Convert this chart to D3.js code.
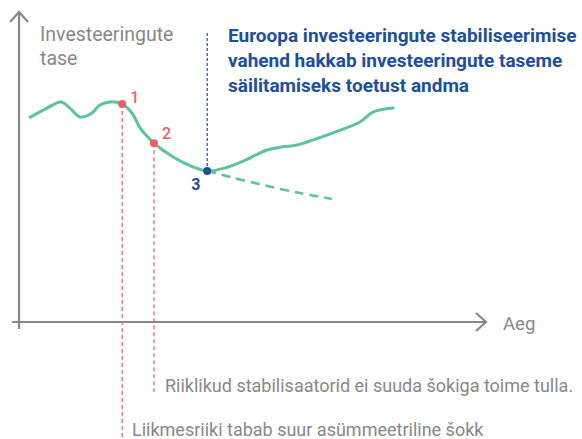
<!DOCTYPE html>
<html>
<head>
<meta charset="utf-8">
<script src="https://cdn.jsdelivr.net/npm/d3@7"></script>
<style>
  body { margin: 0; background: #fff; }
  svg { display: block; }
</style>
</head>
<body>
<div id="chart"></div>
<script>
// investment level path, time in % of axis, level in % of axis
var timeVals  = [2.4, 5.6, 9.0, 10.9, 13.1, 15.6, 17.3, 19.5, 22.1, 24.2, 25.9, 27.2, 28.9, 33.0, 37.3, 40.3, 44.1, 48.0, 53.1, 56.5, 59.5, 67.2, 73.0, 75.8, 80.1];
var levelVals = [66.1, 68.7, 71.0, 69.0, 66.1, 67.4, 70.0, 71.0, 70.3, 67.4, 62.6, 60.3, 57.7, 53.2, 50.0, 48.7, 49.7, 51.9, 55.5, 56.5, 57.1, 61.0, 64.5, 67.7, 69.0];
// path without support
var noSupTime  = [40.3, 45.2, 52.2, 60.2, 67.0];
var noSupLevel = [48.7, 46.8, 44.2, 41.6, 39.7];
// numbered events
var eventLabels = ["1", "2", "3"];
var eventTime   = [22.1, 28.9, 40.3];
var eventLevel  = [70.3, 57.7, 48.7];

var yTitle = ["Investeeringute", "tase"];
var xTitle = "Aeg";
var blueNote = ["Euroopa investeeringute stabiliseerimise", "vahend hakkab investeeringute taseme", "säilitamiseks toetust andma"];
var note2 = "Riiklikud stabilisaatorid ei suuda šokiga toime tulla.";
var note1 = "Liikmesriiki tabab suur asümmeetriline šokk";

var W = 582, H = 439;
var green = "#5cc39a", red = "#ef5d64", blue = "#1c4f9e", grey = "#87888a";
var font = "Roboto, 'Open Sans', sans-serif";

var svg = d3.select("#chart").append("svg")
  .attr("width", W)
  .attr("height", H);

var x = d3.scaleLinear().domain([0, 100]).range([19, 486]);
var y = d3.scaleLinear().domain([0, 100]).range([322, 12]);

// axes
svg.append("line")
  .attr("x1", x(0)).attr("x2", x(0))
  .attr("y1", y(100) + 1).attr("y2", y(0) + 7)
  .attr("stroke", grey).attr("stroke-width", 2.2);
svg.append("path")
  .attr("d", "M" + (x(0) - 9) + "," + (y(100) + 10) + "L" + x(0) + "," + y(100) + "L" + (x(0) + 9) + "," + (y(100) + 10))
  .attr("fill", "none").attr("stroke", grey).attr("stroke-width", 2.2);
svg.append("line")
  .attr("x1", x(0) - 7).attr("x2", x(100) - 1)
  .attr("y1", y(0)).attr("y2", y(0))
  .attr("stroke", grey).attr("stroke-width", 2.2);
svg.append("path")
  .attr("d", "M" + (x(100) - 10) + "," + (y(0) - 9) + "L" + x(100) + "," + y(0) + "L" + (x(100) - 10) + "," + (y(0) + 9))
  .attr("fill", "none").attr("stroke", grey).attr("stroke-width", 2.2);

svg.append("text")
  .attr("x", 503).attr("y", 330)
  .attr("font-family", font).attr("font-size", 18.5)
  .attr("fill", grey).text(xTitle);

svg.selectAll(".ytitle").data(yTitle).enter().append("text")
  .attr("class", "ytitle")
  .attr("x", 40).attr("y", (d, i) => 41 + i * 24)
  .attr("font-family", font).attr("font-size", 19.5)
  .attr("fill", grey).text(d => d);

// guide lines
svg.append("line")
  .attr("x1", x(eventTime[0])).attr("x2", x(eventTime[0]))
  .attr("y1", y(eventLevel[0])).attr("y2", H)
  .attr("stroke", red).attr("stroke-width", 1.2).attr("stroke-dasharray", "4,3");
svg.append("line")
  .attr("x1", x(eventTime[1])).attr("x2", x(eventTime[1]))
  .attr("y1", y(eventLevel[1])).attr("y2", 392)
  .attr("stroke", red).attr("stroke-width", 1.2).attr("stroke-dasharray", "4,3");
svg.append("line")
  .attr("x1", x(eventTime[2])).attr("x2", x(eventTime[2]))
  .attr("y1", 33).attr("y2", y(eventLevel[2]))
  .attr("stroke", blue).attr("stroke-width", 1.2).attr("stroke-dasharray", "3,2");

// lines
var line = d3.line()
  .x(d => x(d[0]))
  .y(d => y(d[1]))
  .curve(d3.curveCatmullRom.alpha(0.5));

svg.append("path")
  .datum(d3.zip(noSupTime, noSupLevel))
  .attr("d", line)
  .attr("fill", "none").attr("stroke", green)
  .attr("stroke-width", 2.6).attr("stroke-dasharray", "9,6");

svg.append("path")
  .datum(d3.zip(timeVals, levelVals))
  .attr("d", line)
  .attr("fill", "none").attr("stroke", green)
  .attr("stroke-width", 3).attr("stroke-linecap", "round");

// event points
svg.selectAll(".ev").data(eventLabels).enter().append("circle")
  .attr("class", "ev")
  .attr("cx", (d, i) => x(eventTime[i]))
  .attr("cy", (d, i) => y(eventLevel[i]))
  .attr("r", 4)
  .attr("fill", (d, i) => i < 2 ? red : blue);

var labelDx = [8, 8, -16], labelDy = [-1, -4, 19];
svg.selectAll(".evl").data(eventLabels).enter().append("text")
  .attr("class", "evl")
  .attr("x", (d, i) => x(eventTime[i]) + labelDx[i])
  .attr("y", (d, i) => y(eventLevel[i]) + labelDy[i])
  .attr("font-family", font).attr("font-size", 16)
  .attr("font-weight", (d, i) => i < 2 ? 500 : 700)
  .attr("fill", (d, i) => i < 2 ? red : blue)
  .text(d => d);

// notes
svg.selectAll(".bn").data(blueNote).enter().append("text")
  .attr("class", "bn")
  .attr("x", 228).attr("y", (d, i) => 42 + i * 25)
  .attr("font-family", font).attr("font-size", 19).attr("font-weight", 700)
  .attr("fill", blue).text(d => d);

svg.append("text")
  .attr("x", 165).attr("y", 392)
  .attr("font-family", font).attr("font-size", 18)
  .attr("fill", grey).text(note2);
svg.append("text")
  .attr("x", 132).attr("y", 436)
  .attr("font-family", font).attr("font-size", 18)
  .attr("fill", grey).text(note1);
</script>
</body>
</html>
